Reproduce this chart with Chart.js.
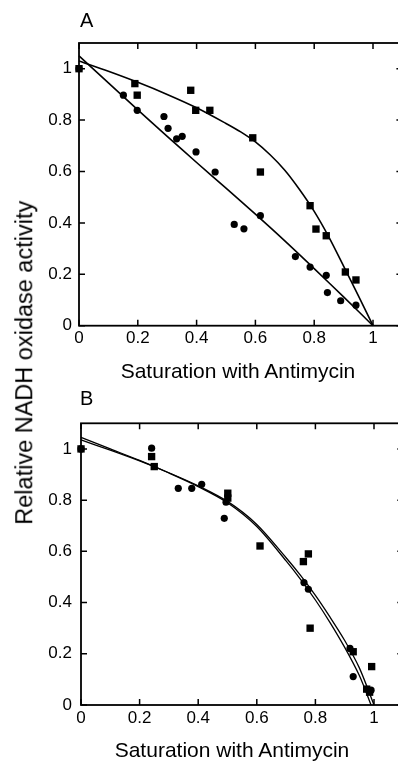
<!DOCTYPE html>
<html>
<head>
<meta charset="utf-8">
<script src="https://cdn.jsdelivr.net/npm/chart.js@4.4.0/dist/chart.umd.min.js"></script>
<style>
  html, body { margin:0; padding:0; width:398px; height:762px; overflow:hidden; background:#fff; }
  #wrap { position:relative; width:398px; height:762px; overflow:hidden; font-family:"Liberation Sans", Arial, sans-serif; color:#000; }
  canvas { position:absolute; left:0; }
  .lbl { position:absolute; line-height:1; white-space:nowrap; }
</style>
</head>
<body>
<div id="wrap">
  <canvas id="chartA" width="410" height="360" style="top:0px"></canvas>
  <canvas id="chartB" width="410" height="360" style="top:380px"></canvas>
  <div class="lbl" style="left:80px; top:10px; font-size:20px;">A</div>
  <div class="lbl" style="left:80px; top:388px; font-size:20px;">B</div>
  <div class="lbl" style="left:38px; width:400px; text-align:center; top:360px; font-size:21px;">Saturation with Antimycin</div>
  <div class="lbl" style="left:32px; width:400px; text-align:center; top:739px; font-size:21px;">Saturation with Antimycin</div>
  <div class="lbl" style="left:-175px; width:400px; text-align:center; top:351px; font-size:23.5px; transform:rotate(-90deg);">Relative NADH oxidase activity</div>
</div>
<script>
// ---- tick labels ----
const xTickValues = [0, 0.2, 0.4, 0.6, 0.8, 1];
const yTickValues = [0, 0.2, 0.4, 0.6, 0.8, 1];

// ---- Panel A data ----
const aSquareX = [0, 0.19, 0.198, 0.38, 0.397, 0.445, 0.591, 0.617, 0.786, 0.806, 0.841, 0.906, 0.942];
const aSquareY = [1.0, 0.942, 0.897, 0.916, 0.838, 0.838, 0.731, 0.598, 0.467, 0.376, 0.350, 0.209, 0.178];
const aCircleX = [0, 0.151, 0.198, 0.289, 0.303, 0.332, 0.351, 0.398, 0.463, 0.528, 0.561, 0.617, 0.736, 0.786, 0.841, 0.845, 0.890, 0.942];
const aCircleY = [1.0, 0.897, 0.838, 0.814, 0.768, 0.727, 0.737, 0.676, 0.598, 0.394, 0.377, 0.428, 0.269, 0.228, 0.196, 0.129, 0.097, 0.080];
const aSquareFitX = [0, 0.1, 0.2, 0.3, 0.4, 0.5, 0.55, 0.6, 0.65, 0.7, 0.75, 0.8, 0.85, 0.9, 0.95, 1.0];
const aSquareFitY = [1.03, 0.99, 0.947, 0.90, 0.848, 0.787, 0.754, 0.715, 0.665, 0.605, 0.53, 0.445, 0.345, 0.232, 0.117, 0.0];
const aCircleFitX = [0, 0.1, 0.2, 0.3, 0.4, 0.5, 0.6, 0.7, 0.8, 0.9, 1.0];
const aCircleFitY = [1.05, 0.945, 0.84, 0.737, 0.635, 0.535, 0.434, 0.33, 0.222, 0.112, 0.0];

// ---- Panel B data ----
const bSquareX = [0, 0.241, 0.25, 0.501, 0.501, 0.611, 0.759, 0.776, 0.782, 0.929, 0.992, 0.975, 0.985];
const bSquareY = [1.0, 0.970, 0.931, 0.827, 0.808, 0.621, 0.560, 0.590, 0.300, 0.208, 0.150, 0.062, 0.050];
const bCircleX = [0, 0.241, 0.332, 0.378, 0.412, 0.495, 0.489, 0.761, 0.776, 0.918, 0.929, 0.990];
const bCircleY = [1.0, 1.003, 0.846, 0.846, 0.862, 0.792, 0.729, 0.478, 0.452, 0.221, 0.111, 0.058];
const bSquareFitX = [0, 0.1, 0.2, 0.3, 0.4, 0.5, 0.6, 0.7, 0.75, 0.8, 0.85, 0.9, 0.95, 1.0];
const bSquareFitY = [1.035, 0.995, 0.953, 0.907, 0.856, 0.795, 0.705, 0.575, 0.505, 0.428, 0.343, 0.252, 0.145, 0.0];
const bCircleFitX = [0, 0.1, 0.2, 0.3, 0.4, 0.5, 0.6, 0.7, 0.75, 0.8, 0.85, 0.9, 0.95, 0.99];
const bCircleFitY = [1.045, 1.0, 0.955, 0.906, 0.853, 0.79, 0.697, 0.563, 0.49, 0.41, 0.322, 0.225, 0.115, 0.0];

function pts(xs, ys) { return xs.map((x, i) => ({ x: x, y: ys[i] })); }
function fmt(v) { return String(+Number(v).toFixed(1)); }

const framePlugin = {
  id: 'frame',
  beforeDatasetsDraw(chart) {
    const ctx = chart.ctx;
    const a = chart.chartArea;
    const xs = chart.scales.x, ys = chart.scales.y;
    ctx.save();
    ctx.strokeStyle = '#000';
    ctx.lineWidth = 1.8;
    ctx.strokeRect(a.left, a.top, a.right - a.left, a.bottom - a.top);
    ctx.lineWidth = 1.5;
    ctx.beginPath();
    xTickValues.forEach(v => {
      const p = xs.getPixelForValue(v);
      ctx.moveTo(p, a.bottom); ctx.lineTo(p, a.bottom - 6);
      ctx.moveTo(p, a.top); ctx.lineTo(p, a.top + 6);
    });
    yTickValues.forEach(v => {
      const p = ys.getPixelForValue(v);
      ctx.moveTo(a.left, p); ctx.lineTo(a.left + 6, p);
      ctx.moveTo(a.right, p); ctx.lineTo(a.right - 6, p);
    });
    ctx.stroke();
    ctx.restore();
  }
};

function makeChart(id, sqX, sqY, ciX, ciY, sfX, sfY, cfX, cfY, geo) {
  const tickFont = { family: 'Liberation Sans', size: 17 };
  const line = (d) => ({ data: d, showLine: true, pointRadius: 0, borderColor: '#000', borderWidth: geo.lw, tension: 0.3, clip: false });
  return new Chart(document.getElementById(id), {
    type: 'scatter',
    data: {
      datasets: [
        line(pts(sfX, sfY)),
        line(pts(cfX, cfY)),
        { data: pts(sqX, sqY), pointStyle: 'rect', pointRadius: 5.2, backgroundColor: '#000', borderColor: '#000', borderWidth: 0, clip: false },
        { data: pts(ciX, ciY), pointStyle: 'circle', pointRadius: 3.6, backgroundColor: '#000', borderColor: '#000', borderWidth: 0, clip: false }
      ]
    },
    options: {
      responsive: false,
      animation: false,
      devicePixelRatio: 1,
      layout: { padding: { top: geo.top, right: geo.right, left: 0, bottom: 0 } },
      plugins: { legend: { display: false }, tooltip: { enabled: false } },
      scales: {
        x: {
          type: 'linear', min: 0, max: 1.1,
          grid: { display: false, drawTicks: false },
          border: { display: false },
          ticks: { padding: geo.xpad, font: tickFont, color: '#000', maxRotation: 0, callback: v => fmt(v) },
          afterBuildTicks: s => { s.ticks = xTickValues.map(v => ({ value: v })); },
          afterFit: s => { s.height = geo.xh; }
        },
        y: {
          type: 'linear', min: 0, max: 1.1,
          grid: { display: false, drawTicks: false },
          border: { display: false },
          ticks: { padding: geo.ypad, font: tickFont, color: '#000', callback: v => fmt(v) },
          afterBuildTicks: s => { s.ticks = yTickValues.map(v => ({ value: v })); },
          afterFit: s => { s.width = geo.yw; }
        }
      }
    },
    plugins: [framePlugin]
  });
}

makeChart('chartA', aSquareX, aSquareY, aCircleX, aCircleY, aSquareFitX, aSquareFitY, aCircleFitX, aCircleFitY,
  { top: 43, right: 7.6, xh: 34.3, yw: 79, xpad: 2, ypad: 7, lw: 1.6 });
makeChart('chartB', bSquareX, bSquareY, bCircleX, bCircleY, bSquareFitX, bSquareFitY, bCircleFitX, bCircleFitY,
  { top: 43.3, right: 6.7, xh: 35, yw: 81, xpad: 3, ypad: 9, lw: 1.3 });
</script>
</body>
</html>
